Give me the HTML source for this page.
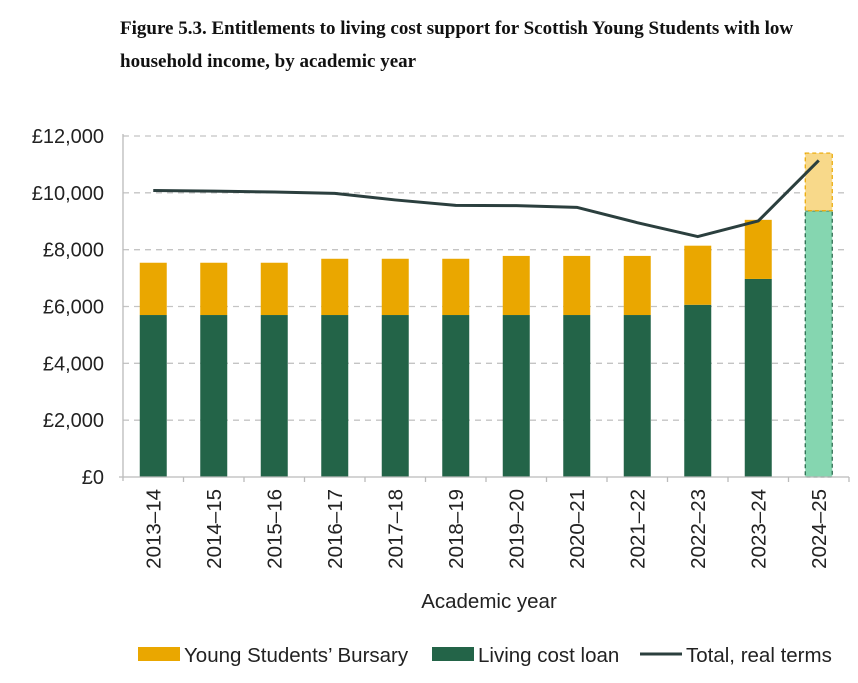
<!DOCTYPE html>
<html><head><meta charset="utf-8"><style>
body{margin:0;background:#fff;width:858px;height:683px;overflow:hidden}
svg{display:block}
.t{font-family:"Liberation Serif",serif;font-weight:bold;font-size:19px;fill:#111}
.s{font-family:"Liberation Sans",sans-serif;font-size:20px;fill:#222}
.b{font-family:"Liberation Sans",sans-serif;font-size:20.5px;fill:#222}
</style></head><body>
<svg id="c" width="858" height="683">
<text class="t" x="120" y="34">Figure 5.3. Entitlements to living cost support for Scottish Young Students with low</text>
<text class="t" x="120" y="67">household income, by academic year</text>
<g id="grid"></g><g id="bars"></g><g id="axes"></g><g id="line"></g>
<text class="b" x="489" y="608" text-anchor="middle">Academic year</text>
<g>
<rect x="138" y="647" width="42" height="14" fill="#eaa700"/>
<text class="b" x="184" y="662">Young Students’ Bursary</text>
<rect x="432" y="647" width="42" height="14" fill="#236448"/>
<text class="b" x="478" y="662">Living cost loan</text>
<line x1="640" y1="654" x2="682" y2="654" stroke="#2b3f3e" stroke-width="3"/>
<text class="b" x="686" y="662">Total, real terms</text>
</g>
</svg>
<script>
const categories=["2013–14","2014–15","2015–16","2016–17","2017–18","2018–19","2019–20","2020–21","2021–22","2022–23","2023–24","2024–25"];
const loanValues=[5700,5700,5700,5700,5700,5700,5700,5700,5700,6060,6970,9370];
const bursaryValues=[1840,1840,1840,1980,1980,1980,2080,2080,2080,2080,2080,2030];
const totalRealTerms=[10080,10060,10030,9980,9750,9560,9550,9490,8950,8460,9010,11140];
const yTicks=[0,2000,4000,6000,8000,10000,12000];
const yTickLabels=["£0","£2,000","£4,000","£6,000","£8,000","£10,000","£12,000"];
const NS="http://www.w3.org/2000/svg";
const x0=123,step=60.5,y0=477,yTop=136,yMax=12000,bw=27;
const y=v=>y0-(v/yMax)*(y0-yTop);
const xc=i=>x0+step*(i+0.5);
function mk(tag,attrs,parent){const e=document.createElementNS(NS,tag);for(const k in attrs)e.setAttribute(k,attrs[k]);document.getElementById(parent).appendChild(e);return e;}
yTicks.forEach((t,i)=>{
 if(t>0){const g=mk('line',{x1:x0,x2:848,y1:y(t),y2:y(t),stroke:'#c4c4c4','stroke-width':1.3,'stroke-dasharray':'6 5'},'grid');
 
 }
 const l=mk('text',{x:104,y:y(t)+7,'text-anchor':'end',class:'s'},'axes');
 l.textContent=yTickLabels[i];
 
 
});
const ya=mk('line',{x1:x0,x2:x0,y1:yTop-2,y2:y0+4,stroke:'#bbb','stroke-width':1.3},'axes');


const xa=mk('line',{x1:x0-4,x2:x0+step*12,y1:y0,y2:y0,stroke:'#bbb','stroke-width':1.3},'axes');


categories.forEach((c,i)=>{
 const tk=mk('line',{x1:x0+step*(i+1),x2:x0+step*(i+1),y1:y0,y2:y0+5,stroke:'#bbb','stroke-width':1.3},'axes');
 
 
 const cx=xc(i);
 const tx=mk('text',{x:0,y:0,'text-anchor':'end',class:'b',transform:`translate(${cx+7},489) rotate(-90)`},'axes');
 tx.textContent=c;
 
 
 const last=i===categories.length-1;
 const yl=y(loanValues[i]),yb=y(loanValues[i]+bursaryValues[i]);
 const b1=mk('rect',{x:cx-bw/2,y:yl,width:bw,height:y0-yl,fill:last?'#85d6b0':'#236448',stroke:last?'#236448':'none','stroke-dasharray':'4 3','stroke-width':1.2},'bars');
 
 
 const b2=mk('rect',{x:cx-bw/2,y:yb,width:bw,height:yl-yb,fill:last?'#f8d98a':'#eaa700',stroke:last?'#eaa700':'none','stroke-dasharray':'4 3','stroke-width':1.2},'bars');
 
 
});
const pts=totalRealTerms.map((v,i)=>xc(i)+','+y(v)).join(' ');
const pl=mk('polyline',{points:pts,fill:'none',stroke:'#2b3f3e','stroke-width':3,'stroke-linejoin':'round'},'line');


</script>
</body></html>
